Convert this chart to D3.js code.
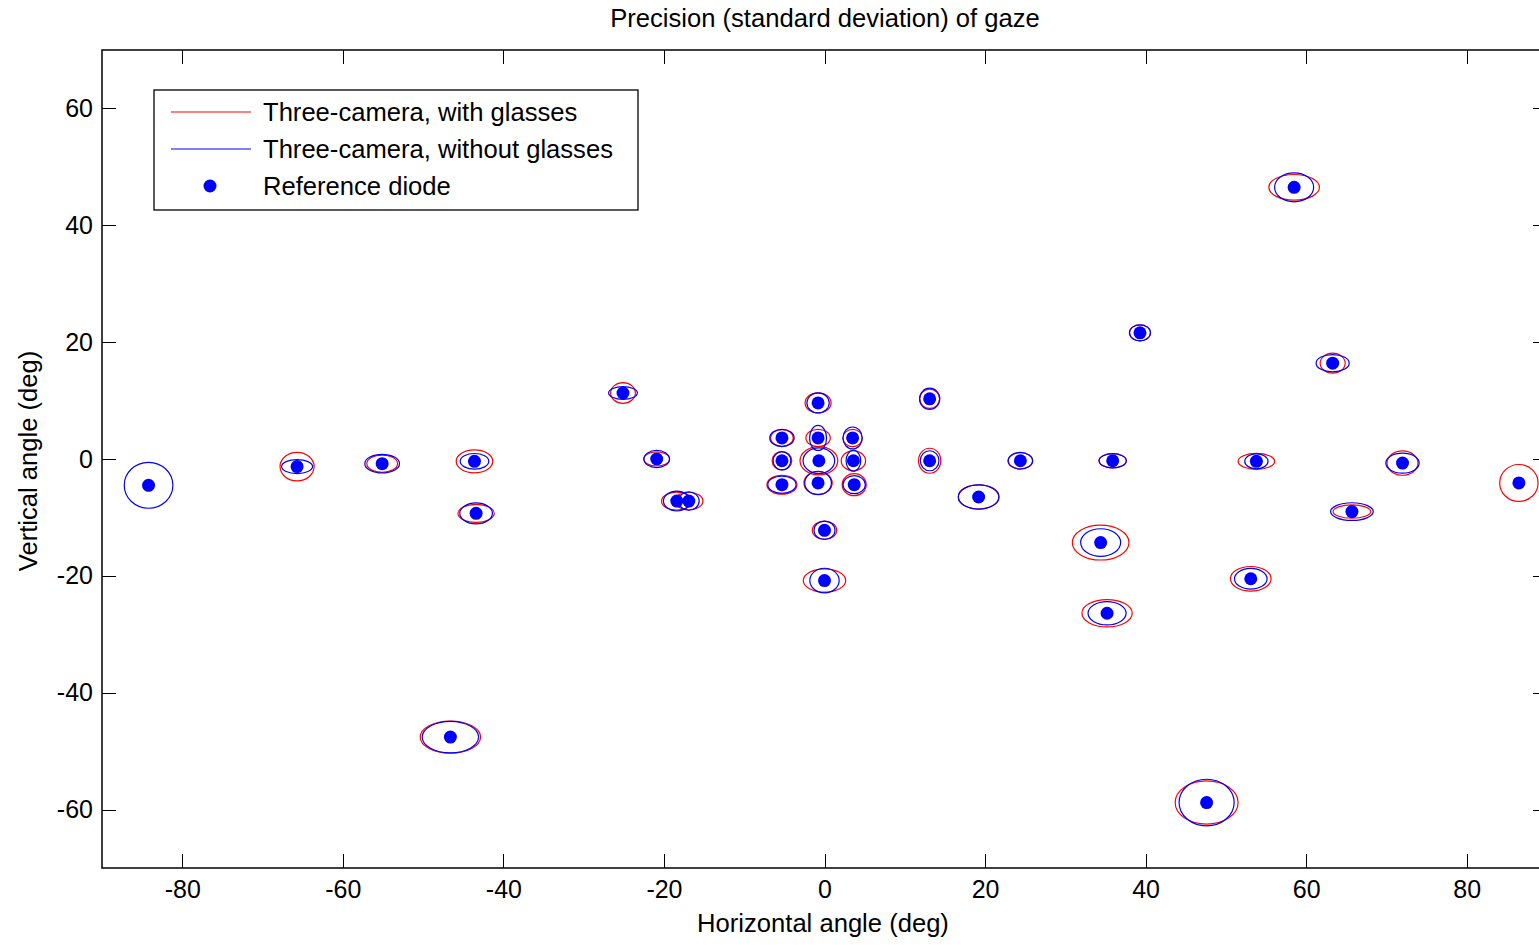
<!DOCTYPE html>
<html>
<head>
<meta charset="utf-8">
<script src="https://cdn.jsdelivr.net/npm/d3@7"></script>
<style>
  html, body { margin: 0; padding: 0; background: #fff; overflow: hidden; }
  svg { display: block; font-family: "Liberation Sans", Arial, sans-serif; }
</style>
</head>
<body>
<svg id="chart" width="1539" height="945"></svg>
<script>
// ---- data (degrees) ----
const refX = [-84.2, -65.7, -55.1, -43.6, -43.4, -46.6, -25.1, -20.9, -18.4, -16.9,
  -0.8, -5.3, -0.8, 3.5, -5.3, -0.7, 3.6, -5.3, -0.8, 3.7, 0.0, 0.0,
  13.1, 13.1, 24.4, 35.9, 19.2, 34.4, 35.2, 58.5, 63.3, 53.8, 72.0, 86.5, 39.3, 65.7, 53.1, 47.6];
const refY = [-4.5, -1.3, -0.8, -0.4, -9.3, -47.6, 11.3, 0.0, -7.2, -7.2,
  9.6, 3.6, 3.6, 3.6, -0.3, -0.3, -0.3, -4.4, -4.1, -4.4, -12.2, -20.8,
  10.3, -0.3, -0.3, -0.3, -6.5, -14.3, -26.4, 46.5, 16.4, -0.4, -0.7, -4.1, 21.6, -9.0, -20.5, -58.8];
// with glasses (red): horizontal / vertical standard deviation
const withSx = [null, 2.12, 1.91, 2.28, 2.26, 3.76, 1.54, 1.60, 1.90, 1.76,
  1.62, 1.41, 1.52, 1.20, 1.22, 2.35, 1.52, 1.87, 1.76, 1.50, 1.52, 2.64,
  1.25, 1.39, 1.52, 1.70, 2.53, 3.53, 3.13, 3.15, 1.56, 2.28, 1.93, 2.39, 1.31, 2.35, 2.53, 3.92];
const withSy = [null, 2.45, 1.48, 1.97, 1.54, 2.76, 1.77, 1.20, 1.54, 1.51,
  1.71, 1.42, 1.48, 1.48, 1.57, 2.42, 1.71, 1.62, 1.94, 1.88, 1.57, 2.00,
  1.65, 2.14, 1.37, 1.23, 2.08, 2.99, 2.34, 2.19, 1.71, 1.37, 2.08, 3.16, 1.37, 1.14, 2.10, 3.70];
// without glasses (blue)
const withoutSx = [3.03, 1.93, 2.16, 1.78, 2.03, 3.51, 1.79, 1.60, 1.66, 1.29,
  1.39, 1.52, 1.06, 1.20, 1.10, 1.97, 0.91, 1.76, 1.66, 1.39, 1.31, 1.83,
  1.25, 1.16, 1.53, 1.70, 2.53, 2.49, 2.37, 2.43, 2.06, 1.45, 2.08, null, 1.31, 2.66, 2.03, 3.43];
const withoutSy = [3.93, 1.20, 1.60, 1.34, 1.80, 2.71, 1.08, 1.48, 1.70, 1.57,
  1.71, 1.48, 2.14, 1.88, 1.57, 2.19, 1.80, 1.48, 2.00, 1.54, 1.57, 2.10,
  1.82, 1.71, 1.42, 1.23, 2.08, 2.36, 2.00, 2.48, 1.48, 1.28, 1.71, null, 1.37, 1.51, 1.77, 3.99];

const xTicks = [-80, -60, -40, -20, 0, 20, 40, 60, 80];
const yTicks = [-60, -40, -20, 0, 20, 40, 60];
const legendLabels = ["Three-camera, with glasses", "Three-camera, without glasses", "Reference diode"];

// ---- layout ----
const svg = d3.select("#chart");
const L = 102, R = 1547, T = 50, B = 868;
const x = d3.scaleLinear().domain([-90, 90]).range([L, R]);
const y = d3.scaleLinear().domain([-70, 70]).range([B, T]);
const FS = 25.6;
const TFS = 25;
const TICK = 14;

const pts = refX.map((v, i) => ({
  x: v, y: refY[i],
  rsx: withSx[i], rsy: withSy[i],
  bsx: withoutSx[i], bsy: withoutSy[i]
}));

// axes
const gx = svg.append("g").attr("transform", `translate(0,${B})`)
  .call(d3.axisBottom(x).tickValues(xTicks).tickSizeInner(-TICK).tickSizeOuter(0)
    .tickPadding(12).tickFormat(d => String(d)));
const gxt = svg.append("g").attr("transform", `translate(0,${T})`)
  .call(d3.axisTop(x).tickValues(xTicks).tickSizeInner(-TICK).tickSizeOuter(0).tickFormat(""));
const gy = svg.append("g").attr("transform", `translate(${L},0)`)
  .call(d3.axisLeft(y).tickValues(yTicks).tickSizeInner(-TICK).tickSizeOuter(0)
    .tickPadding(9).tickFormat(d => String(d)));
const gyr = svg.append("g").attr("transform", `translate(${R},0)`)
  .call(d3.axisRight(y).tickValues(yTicks).tickSizeInner(-TICK).tickSizeOuter(0).tickFormat(""));
[gx, gxt, gy, gyr].forEach(g => {
  g.select(".domain").remove();
  g.selectAll(".tick line").attr("stroke", "#000").attr("stroke-width", 1).attr("shape-rendering", "crispEdges");
  g.selectAll(".tick text").attr("fill", "#000").attr("font-size", TFS)
    .attr("font-family", '"Liberation Sans", Arial, sans-serif');
});

// frame
svg.append("rect").attr("x", L).attr("y", T).attr("width", R - L).attr("height", B - T)
  .attr("fill", "none").attr("stroke", "#000").attr("stroke-width", 1.5);

// ellipses
const plot = svg.append("g");
plot.selectAll("ellipse.red").data(pts.filter(d => d.rsx != null)).join("ellipse")
  .attr("class", "red")
  .attr("cx", d => x(d.x)).attr("cy", d => y(d.y))
  .attr("rx", d => x(d.rsx) - x(0)).attr("ry", d => y(0) - y(d.rsy))
  .attr("fill", "none").attr("stroke", "#ff0000").attr("stroke-width", 1.2);
plot.selectAll("ellipse.blue").data(pts.filter(d => d.bsx != null)).join("ellipse")
  .attr("class", "blue")
  .attr("cx", d => x(d.x)).attr("cy", d => y(d.y))
  .attr("rx", d => x(d.bsx) - x(0)).attr("ry", d => y(0) - y(d.bsy))
  .attr("fill", "none").attr("stroke", "#0000ff").attr("stroke-width", 1.2);
plot.selectAll("circle.ref").data(pts).join("circle")
  .attr("class", "ref")
  .attr("cx", d => x(d.x)).attr("cy", d => y(d.y)).attr("r", 6.5)
  .attr("fill", "#0000ff");

// title and axis labels
svg.append("text").attr("x", 825).attr("y", 27).attr("text-anchor", "middle")
  .attr("font-size", FS).attr("fill", "#000").text("Precision (standard deviation) of gaze");
svg.append("text").attr("x", 823).attr("y", 932).attr("text-anchor", "middle")
  .attr("font-size", FS).attr("fill", "#000").text("Horizontal angle (deg)");
svg.append("text").attr("transform", "translate(37,461) rotate(-90)").attr("text-anchor", "middle")
  .attr("font-size", FS).attr("fill", "#000").text("Vertical angle (deg)");

// legend
const lg = svg.append("g");
lg.append("rect").attr("x", 154).attr("y", 90).attr("width", 484).attr("height", 120)
  .attr("fill", "#fff").attr("stroke", "#000").attr("stroke-width", 1.3);
const rowsY = [112, 149, 186];
lg.append("line").attr("x1", 171).attr("x2", 251).attr("y1", rowsY[0]).attr("y2", rowsY[0])
  .attr("stroke", "#ff0000").attr("stroke-width", 1);
lg.append("line").attr("x1", 171).attr("x2", 251).attr("y1", rowsY[1]).attr("y2", rowsY[1])
  .attr("stroke", "#0000ff").attr("stroke-width", 1);
lg.append("circle").attr("cx", 210).attr("cy", rowsY[2]).attr("r", 6.5).attr("fill", "#0000ff");
legendLabels.forEach((t, i) => {
  lg.append("text").attr("x", 263).attr("y", rowsY[i] + 9).attr("font-size", FS)
    .attr("fill", "#000").text(t);
});
</script>
</body>
</html>
